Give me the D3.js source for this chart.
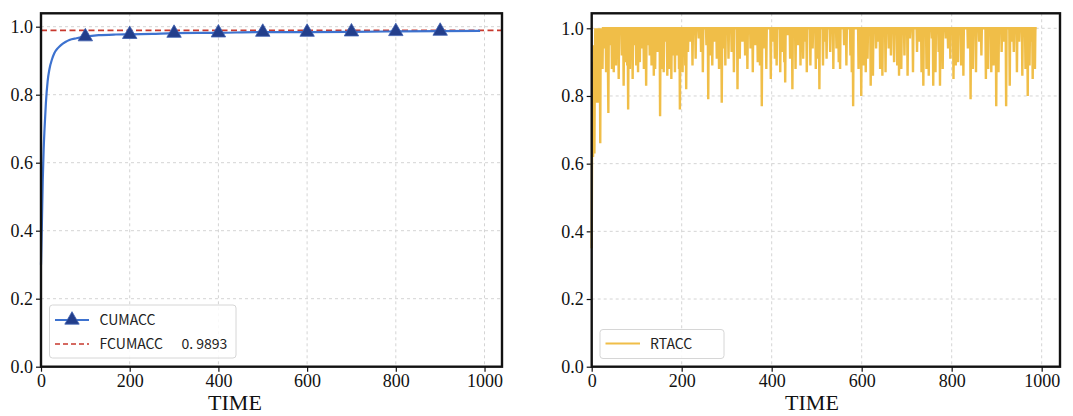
<!DOCTYPE html>
<html>
<head>
<meta charset="utf-8">
<script src="https://cdn.jsdelivr.net/npm/d3@7"></script>
<style>
html,body{margin:0;padding:0;background:#fff;}
svg{display:block;}
</style>
</head>
<body>
<svg id="chart" width="1073" height="416"></svg>
<script>
// ---------- data ----------
const xTicks = [0, 200, 400, 600, 800, 1000];
const yTicks = [0.0, 0.2, 0.4, 0.6, 0.8, 1.0];
const yTickLabels = ["0.0", "0.2", "0.4", "0.6", "0.8", "1.0"];
const xLabel = "TIME";

// cumulative accuracy curve (time, value)
const cumTime = [0, 2, 4, 6, 8, 11, 15, 19, 25, 30, 38, 45, 55, 64, 80, 100, 130, 169, 200, 250, 300, 400, 500, 600, 700, 800, 900, 990];
const cumAcc  = [0.30, 0.42, 0.55, 0.64, 0.70, 0.775, 0.84, 0.875, 0.905, 0.922, 0.937, 0.946, 0.955, 0.961, 0.966, 0.9706, 0.975, 0.977, 0.9775, 0.979, 0.981, 0.982, 0.984, 0.984, 0.985, 0.986, 0.987, 0.988];
const markerTime = [100, 200, 300, 400, 500, 600, 700, 800, 900];
const finalCumAcc = 0.9893;

const legendLeft = ["CUMACC", "FCUMACC", "0. 9893"];
const legendRight = ["RTACC"];

// real-time accuracy (percent), one value per time step 0..989
const rtAcc = [
35,72,90,62,84,95,63,88,100,96, 80,100,78,92,100,86,78,100,94,66,
100,90,95,100,88,100,100,100,94,100, 100,100,87,100,100,100,90,75,100,100,
100,95,100,100,100,88,100,100,100,87, 100,100,100,100,89,100,100,100,91,100,
85,100,100,100,100,100,100,92,100,100, 100,83,100,100,100,90,100,100,100,89,
100,76,100,100,100,88,100,100,100,100, 100,85,100,100,100,100,100,95,100,89,
100,100,100,87,100,100,100,90,100,100, 100,94,100,100,100,100,88,100,100,100,
100,83,100,100,100,95,100,100,100,92, 100,100,100,89,100,100,100,100,86,100,
100,88,100,100,100,100,93,100,100,100, 100,100,74,100,100,100,88,100,100,100,
87,100,100,100,100,96,100,100,86,100, 100,100,88,100,100,100,100,85,100,100,
100,92,100,100,100,87,100,100,100,100, 92,100,100,100,88,100,76,100,100,100,
100,100,87,100,100,100,100,100,89,100, 82,100,100,100,93,100,100,100,100,96,
100,100,100,100,89,100,100,100,100,100, 100,91,100,100,100,100,100,100,97,100,
100,100,100,93,100,100,100,87,100,100, 100,100,100,100,100,95,100,100,100,79,
100,100,100,92,100,100,100,100,89,100, 100,100,96,100,100,100,100,100,91,100,
100,100,100,88,100,100,100,100,100,78, 100,100,100,100,94,100,100,89,100,100,
100,100,100,100,91,100,100,100,100,100, 100,93,100,100,100,100,87,100,100,100,
100,100,100,100,82,100,100,100,100,91, 100,100,100,100,100,96,100,100,100,100,
100,92,100,100,100,100,88,100,100,100, 100,100,100,94,100,100,100,100,87,100,
100,100,100,100,95,100,100,100,100,90, 100,100,100,100,89,100,100,100,77,100,
100,100,94,100,100,100,100,100,88,100, 100,100,100,100,100,100,100,100,85,100,
100,100,100,96,100,100,100,91,100,100, 100,89,100,100,100,100,100,100,100,87,
100,100,100,93,100,100,100,100,90,100, 84,100,100,100,100,98,100,100,100,100,
100,91,100,100,100,100,82,100,100,100, 100,100,100,88,100,100,100,100,100,95,
100,100,100,100,89,100,100,100,100,100, 91,100,100,100,100,100,96,100,87,100,
100,100,100,100,100,100,89,100,100,100, 100,94,100,100,100,100,100,100,88,100,
100,100,100,91,100,100,82,100,100,100, 100,100,100,100,89,100,100,100,100,96,
100,100,91,100,100,100,100,100,100,100, 93,100,100,100,100,100,100,88,100,100,
100,100,100,100,94,100,100,100,100,90, 100,100,88,100,100,100,100,100,100,100,
100,95,100,100,100,100,89,100,100,100, 100,100,100,100,100,92,100,100,87,100,
100,77,100,100,100,100,100,100,100,100, 100,100,100,88,100,100,100,100,100,80,
100,100,100,100,89,100,100,100,100,87, 100,100,100,91,100,100,100,100,100,100,
83,100,100,100,100,86,100,100,100,100, 100,100,94,100,100,100,100,96,100,100,
100,88,100,100,100,100,86,100,100,100, 100,100,100,87,100,100,100,100,100,100,
94,100,100,100,100,92,100,100,100,100, 100,100,90,100,100,100,100,100,100,89,
100,100,100,86,100,100,100,100,88,100, 100,100,100,100,100,92,100,100,100,100,
100,100,86,100,100,100,100,97,100,100, 100,100,100,100,87,100,100,100,100,100,
100,100,100,93,100,100,100,100,96,100, 100,100,100,87,100,100,100,83,100,100,
100,100,100,100,88,100,100,100,100,86, 100,100,100,100,100,100,97,100,100,83,
100,100,100,100,87,100,100,100,100,100, 100,93,100,100,83,100,100,100,100,100,
88,100,100,100,100,100,100,97,100,100, 100,100,94,100,100,100,100,91,100,100,
100,100,100,100,85,100,100,100,100,89, 100,100,100,100,90,100,100,100,100,100,
100,89,100,100,100,100,86,100,100,100, 100,100,100,100,100,100,94,100,100,100,
100,100,79,100,100,100,100,88,100,100, 100,100,100,100,87,100,100,100,100,100,
100,96,100,100,100,100,92,100,100,100, 100,100,100,100,100,100,85,100,100,100,
100,88,100,100,100,100,100,100,87,100, 100,100,100,89,100,100,100,100,100,77,
100,100,100,100,87,100,100,100,100,100, 100,93,100,100,100,100,96,100,100,100,
100,77,100,100,100,100,100,100,100,83, 100,100,100,96,100,100,100,100,93,100,
100,100,100,100,100,87,100,100,100,100, 96,100,100,100,100,100,100,86,100,100,
100,100,100,100,88,100,100,100,100,80, 100,100,100,89,100,100,100,100,96,100,
85,100,100,100,100,88,100,100,100,100
];

// ---------- layout ----------
const svg = d3.select("#chart");
const FONT_SERIF = '"Liberation Serif","Times New Roman",serif';
const FONT_LEG = '"Noto Sans CJK SC","Noto Sans",sans-serif';

function panel(cfg) {
  const x = d3.scaleLinear().domain([0, cfg.xMax]).range([cfg.left, cfg.right]);
  const y = d3.scaleLinear().domain([0, cfg.yMax]).range([cfg.bottom, cfg.top]);
  const g = svg.append("g");
  // grid
  g.append("g").selectAll("line").data(xTicks).join("line")
    .attr("x1", d => x(d)).attr("x2", d => x(d))
    .attr("y1", cfg.top).attr("y2", cfg.bottom)
    .attr("stroke", "#d4d4d4").attr("stroke-width", 1).attr("stroke-dasharray", "3,3");
  g.append("g").selectAll("line").data(yTicks).join("line")
    .attr("x1", cfg.left).attr("x2", cfg.right)
    .attr("y1", d => y(d)).attr("y2", d => y(d))
    .attr("stroke", "#d4d4d4").attr("stroke-width", 1).attr("stroke-dasharray", "3,3");
  // axes
  const xa = g.append("g").attr("transform", `translate(0,${cfg.bottom})`)
    .call(d3.axisBottom(x).tickValues(xTicks).tickFormat(d3.format("d")).tickSize(5).tickPadding(3));
  const ya = g.append("g").attr("transform", `translate(${cfg.left},0)`)
    .call(d3.axisLeft(y).tickValues(yTicks).tickFormat((d, i) => yTickLabels[i]).tickSize(5).tickPadding(3));
  [xa, ya].forEach(a => {
    a.attr("font-family", FONT_SERIF).attr("font-size", 18);
    a.select(".domain").remove();
    a.selectAll(".tick line").attr("stroke", "#111").attr("stroke-width", 1.2);
    a.selectAll(".tick text").attr("fill", "#111").attr("font-family", FONT_SERIF);
  });
  g.append("text").attr("x", cfg.labelX).attr("y", 410)
    .attr("text-anchor", "middle").attr("font-family", FONT_SERIF)
    .attr("font-size", 22).attr("fill", "#111").text(xLabel);
  return {x, y, g};
}

function frame(cfg) {
  svg.append("rect").attr("x", cfg.left).attr("y", cfg.top)
    .attr("width", cfg.right - cfg.left).attr("height", cfg.bottom - cfg.top)
    .attr("fill", "none").attr("stroke", "#111").attr("stroke-width", 2.4);
}

// left panel
const cfgL = {left: 41, right: 502, top: 13.3, bottom: 366.7, xMax: 1039.4, yMax: 1.0394, labelX: 235};
const L = panel(cfgL);
L.g.append("line").attr("x1", cfgL.left).attr("x2", cfgL.right)
  .attr("y1", L.y(finalCumAcc)).attr("y2", L.y(finalCumAcc))
  .attr("stroke", "#c8392e").attr("stroke-width", 1.8).attr("stroke-dasharray", "6,3.5");
const cumPts = cumTime.map((t, i) => [t, cumAcc[i]]);
L.g.append("path").datum(cumPts)
  .attr("d", d3.line().x(d => L.x(d[0])).y(d => L.y(d[1])).curve(d3.curveMonotoneX))
  .attr("fill", "none").attr("stroke", "#3d72cf").attr("stroke-width", 2.2);
const cumAt = t => cumAcc[cumTime.indexOf(t)];
const tri = d3.symbol().type(d3.symbolTriangle).size(90);
L.g.append("g").selectAll("path").data(markerTime).join("path")
  .attr("d", tri)
  .attr("transform", d => `translate(${L.x(d)},${L.y(cumAt(d))})`)
  .attr("fill", "#233e8b").attr("stroke", "#3d5fb0").attr("stroke-width", 0.8);
frame(cfgL);

// right panel
const cfgR = {left: 591.7, right: 1060, top: 13.3, bottom: 366.7, xMax: 1040.7, yMax: 1.0443, labelX: 812};
const R = panel(cfgR);
R.g.append("path").datum(rtAcc)
  .attr("d", d3.line().x((d, i) => R.x(i)).y(d => R.y(d / 100)))
  .attr("fill", "none").attr("stroke", "#f0be48").attr("stroke-width", 2.4)
  .attr("stroke-linejoin", "miter");
frame(cfgR);

// legends
function legendBox(x, y, w, h) {
  svg.append("rect").attr("x", x).attr("y", y).attr("width", w).attr("height", h)
    .attr("rx", 3).attr("fill", "rgba(255,255,255,0.85)")
    .attr("stroke", "#d6d6d6").attr("stroke-width", 1);
}
legendBox(49.5, 305, 186.5, 53);
svg.append("line").attr("x1", 55).attr("x2", 89).attr("y1", 320).attr("y2", 320)
  .attr("stroke", "#3d72cf").attr("stroke-width", 2.2);
svg.append("path").attr("d", tri).attr("transform", "translate(72,320)")
  .attr("fill", "#233e8b").attr("stroke", "#3d5fb0").attr("stroke-width", 0.8);
svg.append("line").attr("x1", 55).attr("x2", 89).attr("y1", 344).attr("y2", 344)
  .attr("stroke", "#c8392e").attr("stroke-width", 1.6).attr("stroke-dasharray", "5,3");
svg.append("text").attr("x", 99.5).attr("y", 325).attr("font-family", FONT_LEG)
  .attr("font-size", 14).attr("fill", "#222").text(legendLeft[0]);
svg.append("text").attr("x", 99.5).attr("y", 349).attr("font-family", FONT_LEG)
  .attr("font-size", 14).attr("fill", "#222").text(legendLeft[1]);
svg.append("text").attr("x", 181.5).attr("y", 349).attr("font-family", FONT_LEG)
  .attr("font-size", 14).attr("fill", "#222").text(legendLeft[2]);

legendBox(600, 329.5, 124, 29);
svg.append("line").attr("x1", 605.5).attr("x2", 640).attr("y1", 343.5).attr("y2", 343.5)
  .attr("stroke", "#f0be48").attr("stroke-width", 2);
svg.append("text").attr("x", 650).attr("y", 348.5).attr("font-family", FONT_LEG)
  .attr("font-size", 14).attr("fill", "#222").text(legendRight[0]);
</script>
</body>
</html>
